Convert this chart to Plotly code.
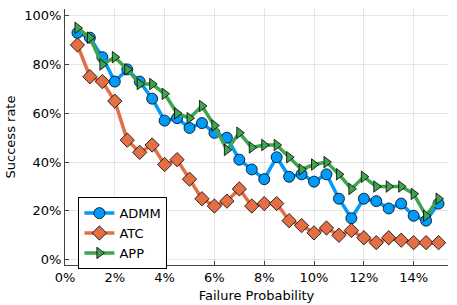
import plotly.graph_objects as go

failure_prob = [0.5, 1.0, 1.5, 2.0, 2.5, 3.0, 3.5, 4.0, 4.5, 5.0, 5.5, 6.0, 6.5, 7.0, 7.5,
                8.0, 8.5, 9.0, 9.5, 10.0, 10.5, 11.0, 11.5, 12.0, 12.5, 13.0, 13.5, 14.0, 14.5, 15.0]
admm = [93, 91, 83, 73, 78, 73, 66, 57, 58, 54, 56, 52, 50, 41, 37,
        33, 42, 34, 35, 32, 35, 25, 17, 25, 24, 21, 23, 18, 16, 23]
atc = [88, 75, 73, 65, 49, 44, 47, 39, 41, 33, 25, 22, 24, 29, 22,
       23, 23, 16, 14, 11, 13, 10, 12, 9, 7, 9, 8, 7, 7, 7]
app = [95, 91, 80, 83, 78, 72, 72, 68, 60, 58, 63, 55, 45, 52, 46,
       47, 47, 42, 37, 39, 40, 35, 29, 34, 30, 30, 30, 27, 18, 25]

x_ticks = [0, 2, 4, 6, 8, 10, 12, 14]
x_labels = ["0%", "2%", "4%", "6%", "8%", "10%", "12%", "14%"]
y_ticks = [0, 20, 40, 60, 80, 100]
y_labels = ["0%", "20%", "40%", "60%", "80%", "100%"]

series = [("ADMM", admm, "#009AFA", "circle", 11),
          ("ATC", atc, "#E26F46", "diamond", 11),
          ("APP", app, "#3EA44E", "triangle-right", 10)]

fig = go.Figure()
for name, vals, color, sym, size in series:
    fig.add_trace(go.Scatter(
        x=failure_prob, y=vals, name=name, mode="lines+markers",
        line=dict(color=color, width=3.5),
        marker=dict(symbol=sym, size=size, color=color,
                    line=dict(color="rgba(0,0,0,0.8)", width=1)),
    ))

font = "DejaVu Sans, sans-serif"
fig.update_layout(
    width=457, height=305,
    margin=dict(l=65, r=9, t=9, b=40),
    paper_bgcolor="white", plot_bgcolor="white",
    font=dict(family=font, size=13, color="black"),
    legend=dict(x=0.035, y=0.265, xanchor="left", yanchor="top",
                bordercolor="black", borderwidth=1, bgcolor="white",
                font=dict(size=13), tracegroupgap=0, itemwidth=30),
    showlegend=True,
)
fig.update_xaxes(
    range=[0, 15.38], tickvals=x_ticks, ticktext=x_labels, automargin=False,
    showgrid=True, gridcolor="rgba(0,0,0,0.1)", gridwidth=1,
    showline=True, linecolor="#444", linewidth=1, mirror=False,
    ticks="inside", ticklen=4, tickcolor="#444", zeroline=False,
    title=dict(text="Failure Probability", font=dict(size=13), standoff=7),
    tickfont=dict(size=13),
)
fig.update_yaxes(
    range=[-2.17, 102.75], tickvals=y_ticks, ticktext=y_labels, automargin=False,
    showgrid=True, gridcolor="rgba(0,0,0,0.1)", gridwidth=1,
    showline=True, linecolor="#444", linewidth=1, mirror=False,
    ticks="inside", ticklen=4, tickcolor="#444", zeroline=False,
    title=dict(text="Success rate", font=dict(size=13), standoff=5),
    tickfont=dict(size=13),
)
fig.write_html("out.html", config={"displayModeBar": False},
               post_script="document.body.style.margin='0';document.body.style.overflow='hidden';")
